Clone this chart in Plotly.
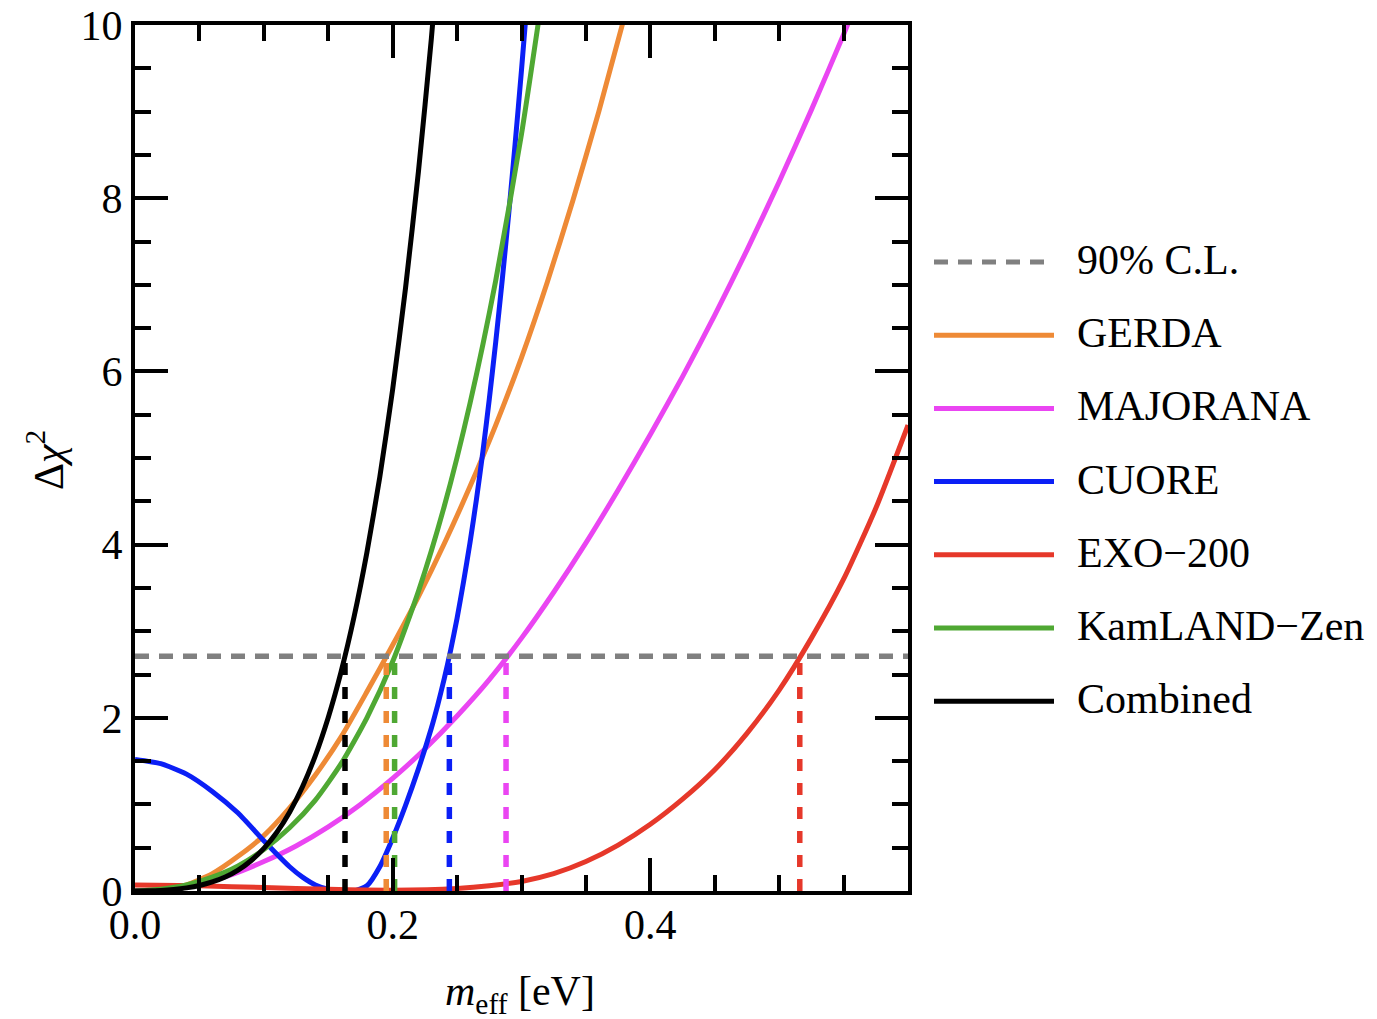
import plotly.graph_objects as go

# ---- Delta chi^2 profiles versus effective Majorana mass m_eff [eV] ----
m_gerda = [0.00, 0.02, 0.04, 0.06, 0.08, 0.10, 0.12, 0.14, 0.16, 0.18,
           0.20, 0.22, 0.24, 0.26, 0.28, 0.30, 0.32, 0.34, 0.36, 0.38]
chi_gerda = [0.00, 0.01, 0.07, 0.20, 0.40, 0.64, 0.96, 1.34, 1.78, 2.30,
             2.84, 3.40, 4.01, 4.67, 5.38, 6.16, 7.03, 7.98, 9.00, 10.10]

m_majorana = [0.000, 0.025, 0.050, 0.075, 0.100, 0.125, 0.150, 0.175, 0.200, 0.225,
              0.250, 0.275, 0.300, 0.325, 0.350, 0.375, 0.400, 0.425, 0.450, 0.475,
              0.500, 0.525, 0.550, 0.575]
chi_majorana = [0.00, 0.02, 0.08, 0.19, 0.34, 0.52, 0.74, 1.00, 1.30, 1.64,
                2.02, 2.44, 2.92, 3.45, 4.02, 4.63, 5.27, 5.94, 6.65, 7.40,
                8.19, 9.02, 9.89, 10.80]

m_cuore = [0.00, 0.02, 0.04, 0.06, 0.08, 0.10, 0.12, 0.13, 0.14, 0.15,
           0.16, 0.17, 0.18, 0.19, 0.20, 0.21, 0.22, 0.23, 0.235, 0.24,
           0.245, 0.25, 0.255, 0.26, 0.265, 0.27, 0.275, 0.28, 0.285, 0.29,
           0.295, 0.30, 0.305]
chi_cuore = [1.52, 1.47, 1.35, 1.15, 0.90, 0.58, 0.28, 0.16, 0.07, 0.02,
             0.00, 0.00, 0.06, 0.28, 0.61, 0.99, 1.41, 1.88, 2.15, 2.45,
             2.78, 3.15, 3.57, 4.02, 4.52, 5.07, 5.68, 6.34, 7.05, 7.81,
             8.62, 9.48, 10.39]

m_exo = [0.000, 0.050, 0.100, 0.150, 0.200, 0.250, 0.275, 0.300, 0.325, 0.350,
         0.375, 0.400, 0.425, 0.450, 0.475, 0.500, 0.525, 0.550, 0.575, 0.600]
chi_exo = [0.07, 0.06, 0.04, 0.02, 0.01, 0.03, 0.06, 0.11, 0.20, 0.34,
           0.53, 0.77, 1.06, 1.40, 1.82, 2.32, 2.92, 3.60, 4.42, 5.38]

m_kamland = [0.00, 0.02, 0.04, 0.06, 0.08, 0.10, 0.12, 0.14, 0.16, 0.18,
             0.20, 0.22, 0.24, 0.26, 0.28, 0.30, 0.32]
chi_kamland = [0.00, 0.02, 0.07, 0.16, 0.29, 0.48, 0.73, 1.05, 1.47, 2.00,
               2.65, 3.46, 4.44, 5.63, 7.05, 8.74, 10.73]

m_combined = [0.00, 0.01, 0.02, 0.03, 0.04, 0.05, 0.06, 0.07, 0.08, 0.09,
              0.10, 0.11, 0.12, 0.13, 0.14, 0.15, 0.16, 0.17, 0.18, 0.19,
              0.20, 0.21, 0.22, 0.23, 0.24]
chi_combined = [0.000, 0.002, 0.007, 0.018, 0.036, 0.063, 0.104, 0.161, 0.241, 0.349,
                0.492, 0.676, 0.910, 1.203, 1.564, 2.004, 2.533, 3.163, 3.909, 4.780,
                5.794, 6.965, 8.307, 9.839, 11.580]

# 90% C.L. threshold and the resulting upper limits on m_eff [eV]
cl90 = 2.71
names = ["GERDA", "MAJORANA", "CUORE", "EXO\u2212200", "KamLAND\u2212Zen", "Combined"]
limits = [0.195, 0.288, 0.244, 0.516, 0.2015, 0.163]
colors = ["#EE8A36", "#EA45F2", "#0B1FF6", "#E6382A", "#4FA833", "#000000"]
curves = [(m_gerda, chi_gerda), (m_majorana, chi_majorana), (m_cuore, chi_cuore),
          (m_exo, chi_exo), (m_kamland, chi_kamland), (m_combined, chi_combined)]

x_ticks = [0.0, 0.2, 0.4]
x_ticktext = ["0.0", "0.2", "0.4"]
x_minor = [0.05, 0.10, 0.15, 0.25, 0.30, 0.35, 0.45, 0.50, 0.55]
y_ticks = [0, 2, 4, 6, 8, 10]
y_minor = [0.5, 1.0, 1.5, 2.5, 3.0, 3.5, 4.5, 5.0, 5.5, 6.5, 7.0, 7.5, 8.5, 9.0, 9.5]

FONT = "Liberation Serif, Times New Roman, serif"
W, H = 1377, 1019
L, R, T, B = 135, 908, 25, 891          # plot-area edges in pixels


def xp(px):
    return (px - L) / (R - L)


def yp(py):
    return (B - py) / (B - T)


fig = go.Figure()

for (mx, cy), name, col in zip(curves, names, colors):
    fig.add_trace(go.Scatter(x=mx, y=cy, mode="lines", name=name,
                             line=dict(color=col, width=5, shape="spline", smoothing=0.6),
                             showlegend=False, hoverinfo="skip"))

# 90% C.L. horizontal line
fig.add_trace(go.Scatter(x=[0.0, 0.6], y=[cl90, cl90], mode="lines",
                         line=dict(color="#808080", width=5.5, dash="14px,10px"),
                         showlegend=False, hoverinfo="skip"))

# vertical markers at each upper limit
for lim, col in zip(limits, colors):
    fig.add_trace(go.Scatter(x=[lim, lim], y=[0, cl90], mode="lines",
                             line=dict(color=col, width=5.5, dash="12px,12px"),
                             showlegend=False, hoverinfo="skip"))

axis_common = dict(showline=True, linewidth=4, linecolor="black", mirror="ticks",
                   ticks="inside", ticklen=33, tickwidth=3.5, tickcolor="black",
                   showgrid=False, zeroline=False, automargin=False,
                   tickfont=dict(family=FONT, size=42, color="black"))

fig.update_xaxes(range=[0, 0.6], tickmode="array", tickvals=x_ticks, ticktext=x_ticktext,
                 ticklabelstandoff=-6,
                 minor=dict(tickmode="array", tickvals=x_minor, ticks="inside",
                            ticklen=16, tickwidth=3.5, tickcolor="black", showgrid=False),
                 **axis_common)
fig.update_yaxes(range=[0, 10], tickmode="array", tickvals=y_ticks,
                 minor=dict(tickmode="array", tickvals=y_minor, ticks="inside",
                            ticklen=16, tickwidth=3.5, tickcolor="black", showgrid=False),
                 **axis_common)

annotations = [
    dict(text="<i>m</i><sub>eff</sub> [eV]", x=xp(520), y=yp(994), xref="paper", yref="paper",
         showarrow=False, xanchor="center", yanchor="middle",
         font=dict(family=FONT, size=42, color="black")),
    dict(text="\u0394<i>\u03c7</i><sup>2</sup>", x=xp(45), y=yp(460), xref="paper", yref="paper",
         showarrow=False, xanchor="center", yanchor="middle", textangle=-90,
         font=dict(family=FONT, size=42, color="black")),
]

# legend: line samples and labels
legend_rows = ["90% C.L."] + names
legend_colors = ["#808080"] + colors
legend_dash = ["14px,10px"] + ["solid"] * len(names)
row0, row_step = 262, 73.2
shapes = []
for i, (lab, col, dsh) in enumerate(zip(legend_rows, legend_colors, legend_dash)):
    py = row0 + i * row_step
    shapes.append(dict(type="line", xref="paper", yref="paper",
                       x0=xp(934), x1=xp(1054), y0=yp(py), y1=yp(py),
                       line=dict(color=col, width=5, dash=dsh)))
    annotations.append(dict(text=lab, x=xp(1075), y=yp(py - 2), xref="paper", yref="paper",
                            showarrow=False, xanchor="left", yanchor="middle",
                            font=dict(family=FONT, size=42, color="black")))

fig.update_layout(width=W, height=H, margin=dict(l=L, r=W - R, t=T, b=H - B, pad=0),
                  plot_bgcolor="white", paper_bgcolor="white",
                  annotations=annotations, shapes=shapes, showlegend=False)

fig.write_html("out.html")
